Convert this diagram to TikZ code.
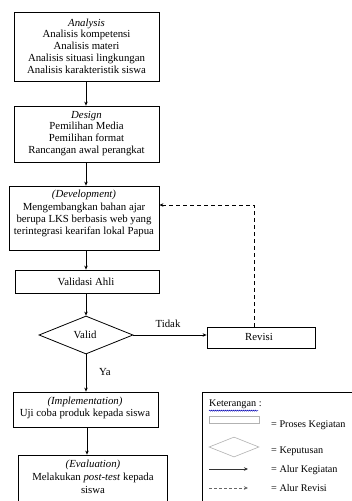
\documentclass[tikz,border=0pt]{standalone}
\usepackage{fontspec}
\setmainfont{Liberation Serif}
\usetikzlibrary{arrows.meta,shapes.geometric,decorations.pathmorphing}
\begin{document}
\begin{tikzpicture}[x=1pt,y=-1pt,
  box/.style={draw,line width=0.8pt,inner sep=0pt,minimum width=#1},
  txt/.style={align=center,inner sep=0pt,font=\fontsize{10.8}{11.8}\selectfont},
  arr/.style={line width=0.7pt,-{Stealth[length=4pt,width=3.5pt]}},
  lg/.style={font=\fontsize{10.2}{11}\selectfont,anchor=west,inner sep=0pt}]
\useasboundingbox (0,0) rectangle (352,501);
\clip (0,0) rectangle (352,501);
\fill[white] (0,0) rectangle (352,501);
\coordinate (col) at (86,0);
% boxes
\node[box=145pt,minimum height=69pt] (ana) at (86.5,46.5) {};
\node[txt] (anat) at (86.5,46) {\textit{Analysis}\\Analisis kompetensi\\Analisis materi\\Analisis situasi lingkungan\\Analisis karakteristik siswa};
\node[box=145pt,minimum height=56pt] (des) at (86.5,134) {};
\node[txt] (dest) at (86.5,133.3) {\textit{Design}\\Pemilihan Media\\Pemilihan format\\Rancangan awal perangkat};
\node[box=150pt,minimum height=64pt] (dev) at (84,218) {};
\node[txt,font=\fontsize{10.8}{12.4}\selectfont] (devt) at (84,213.7) {\textit{(Development)}\\Mengembangkan bahan ajar\\berupa LKS berbasis web yang\\terintegrasi kearifan lokal Papua};
\node[box=144pt,minimum height=23pt] (val) at (87,281.5) {};
\node[txt] (valt) at (86,281.5) {Validasi Ahli};
\node[draw,line width=0.8pt,diamond,inner sep=0pt,minimum width=94pt,minimum height=38pt] (dia) at (86,335) {};
\node[txt] (diat) at (85,334.5) {Valid};
\node[box=108pt,minimum height=21pt] (rev) at (261,337.5) {};
\node[txt] (revt) at (259,336.7) {Revisi};
\node[box=145pt,minimum height=35pt] (imp) at (85.5,409.5) {};
\node[txt,font=\fontsize{10.8}{12.3}\selectfont] (impt) at (85,408) {\textit{(Implementation)}\\Uji coba produk kepada siswa};
\node[box=149pt,minimum height=60pt] (eva) at (92.5,485) {};
\node[txt,font=\fontsize{10.8}{13}\selectfont] (evat) at (93,477) {\textit{(Evaluation)}\\Melakukan \textit{post-test} kepada\\siswa};
% labels
\node[txt] (tidak) at (168,324) {Tidak};
\node[txt] (ya) at (105,372) {Ya};
% arrows
\draw[arr] (ana.south -| col) -- (des.north -| col);
\draw[arr] (des.south -| col) -- (dev.north -| col);
\draw[arr] (dev.south -| col) -- (val.north -| col);
\draw[arr] (val.south -| col) -- (dia.north);
\draw[arr] (dia.east) -- (dia.east -| rev.west);
\draw[arr] (dia.south) -- (imp.north -| col);
\coordinate (col2) at (87,0);
\draw[arr] (imp.south -| col2) -- (eva.north -| col2);
\coordinate (c1) at (254,205);
\draw[arr,dashed,dash pattern=on 4pt off 3pt] (rev.north -| c1) -- (c1) -- (c1 -| dev.east);
% legend
\node[draw,line width=0.8pt,inner sep=0pt,minimum width=200pt,minimum height=160pt,anchor=north west] (leg) at (202,392) {};
\node[lg] (kt) at (209,404) {Keterangan :};
\draw[blue!70!black,line width=0.4pt,decorate,decoration={snake,amplitude=0.6pt,segment length=2pt}] (kt.south west) ++(0,2) -- ++(49,0);
\node[draw=gray!60,line width=0.6pt,inner sep=0pt,minimum width=50pt,minimum height=7pt] (lrect) at (234,419.5) {};
\node[draw=gray!60,line width=0.6pt,diamond,inner sep=0pt,minimum width=50pt,minimum height=20pt] (ldia) at (234,447) {};
\coordinate (la1) at (209,469);
\coordinate (la2) at (248,469);
\draw[line width=0.7pt,black!80,-{Stealth[length=4pt,width=3.5pt]}] (la1) -- (la2);
\coordinate (lb1) at (209,488);
\coordinate (lb2) at (248,488);
\draw[line width=0.6pt,black!60,dash pattern=on 3pt off 2pt,-{Stealth[length=4pt,width=3.5pt]}] (lb1) -- (lb2);
\node[lg] (l1) at (271,425) {= Proses Kegiatan};
\node[lg] (l2) at (271,451) {= Keputusan};
\node[lg] (l3) at (271,470) {= Alur Kegiatan};
\node[lg] (l4) at (271,488.5) {= Alur Revisi};
\end{tikzpicture}
\end{document}
